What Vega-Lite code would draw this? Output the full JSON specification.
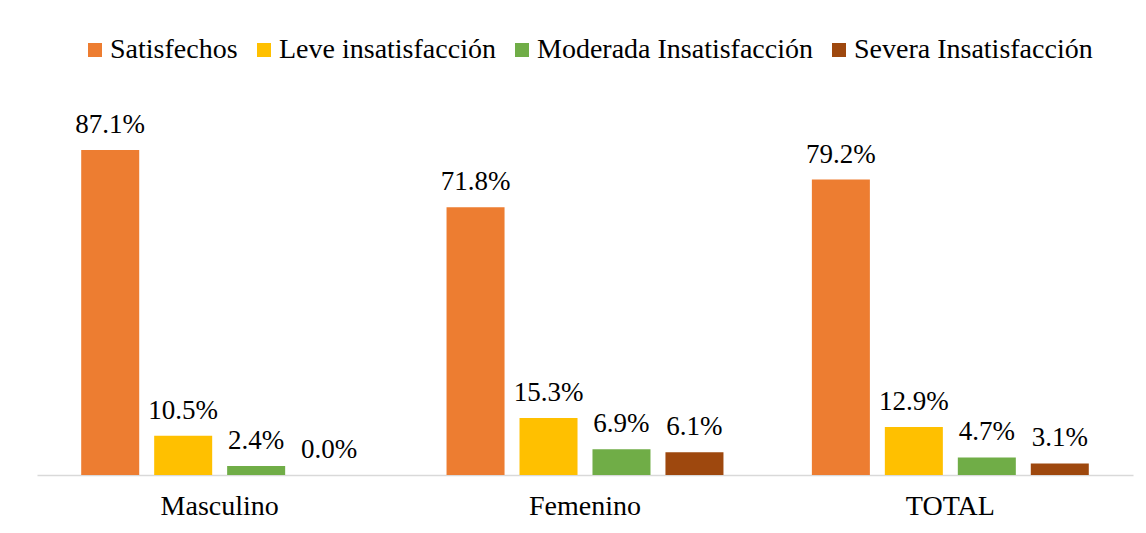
{
  "$schema": "https://vega.github.io/schema/vega-lite/v6.json",
  "width": 1096,
  "height": 373,
  "autosize": {"type": "none"},
  "padding": {"left": 37, "top": 102, "right": 13, "bottom": 58},
  "background": "white",
  "data": {
    "values": [
      {"grupo": "Masculino", "nivel": "Satisfechos", "valor": 0.871},
      {"grupo": "Masculino", "nivel": "Leve insatisfacción", "valor": 0.105},
      {"grupo": "Masculino", "nivel": "Moderada Insatisfacción", "valor": 0.024},
      {"grupo": "Masculino", "nivel": "Severa Insatisfacción", "valor": 0.0},
      {"grupo": "Femenino", "nivel": "Satisfechos", "valor": 0.718},
      {"grupo": "Femenino", "nivel": "Leve insatisfacción", "valor": 0.153},
      {"grupo": "Femenino", "nivel": "Moderada Insatisfacción", "valor": 0.069},
      {"grupo": "Femenino", "nivel": "Severa Insatisfacción", "valor": 0.061},
      {"grupo": "TOTAL", "nivel": "Satisfechos", "valor": 0.792},
      {"grupo": "TOTAL", "nivel": "Leve insatisfacción", "valor": 0.129},
      {"grupo": "TOTAL", "nivel": "Moderada Insatisfacción", "valor": 0.047},
      {"grupo": "TOTAL", "nivel": "Severa Insatisfacción", "valor": 0.031}
    ]
  },
  "encoding": {
    "x": {
      "field": "grupo",
      "type": "nominal",
      "sort": ["Masculino", "Femenino", "TOTAL"],
      "scale": {"paddingInner": 0.242, "paddingOuter": 0.121},
      "axis": {
        "title": null,
        "labelAngle": 0,
        "ticks": false,
        "domainColor": "#d9d9d9",
        "domainWidth": 1.5,
        "labelFont": "Liberation Serif",
        "labelFontSize": 28,
        "labelColor": "#000000",
        "labelPadding": 17
      }
    },
    "xOffset": {
      "field": "nivel",
      "type": "nominal",
      "sort": ["Satisfechos", "Leve insatisfacción", "Moderada Insatisfacción", "Severa Insatisfacción"],
      "scale": {"paddingInner": 0.205, "paddingOuter": 0}
    },
    "y": {
      "field": "valor",
      "type": "quantitative",
      "scale": {"domain": [0, 1]},
      "axis": null
    }
  },
  "layer": [
    {
      "mark": {"type": "bar"},
      "encoding": {
        "color": {
          "field": "nivel",
          "type": "nominal",
          "sort": ["Satisfechos", "Leve insatisfacción", "Moderada Insatisfacción", "Severa Insatisfacción"],
          "scale": {
            "domain": ["Satisfechos", "Leve insatisfacción", "Moderada Insatisfacción", "Severa Insatisfacción"],
            "range": ["#ED7D31", "#FFC000", "#70AD47", "#9E480E"]
          },
          "legend": {
            "title": null,
            "orient": "none",
            "direction": "horizontal",
            "legendX": 44,
            "legendY": -66,
            "padding": 0,
            "symbolType": "square",
            "symbolSize": 196,
            "symbolStrokeWidth": 0,
            "symbolOffset": 0,
            "labelFont": "Liberation Serif",
            "labelFontSize": 28,
            "labelColor": "#000000",
            "labelOffset": 1,
            "columnPadding": 12,
            "labelLimit": 400
          }
        }
      }
    },
    {
      "mark": {
        "type": "text",
        "baseline": "alphabetic",
        "dy": -17,
        "font": "Liberation Serif",
        "fontSize": 27,
        "color": "#000000"
      },
      "encoding": {
        "text": {"field": "valor", "type": "quantitative", "format": ".1%"}
      }
    }
  ],
  "config": {
    "font": "Liberation Serif",
    "text": {"font": "Liberation Serif"},
    "legend": {"labelFont": "Liberation Serif"},
    "view": {"stroke": null}
  }
}
